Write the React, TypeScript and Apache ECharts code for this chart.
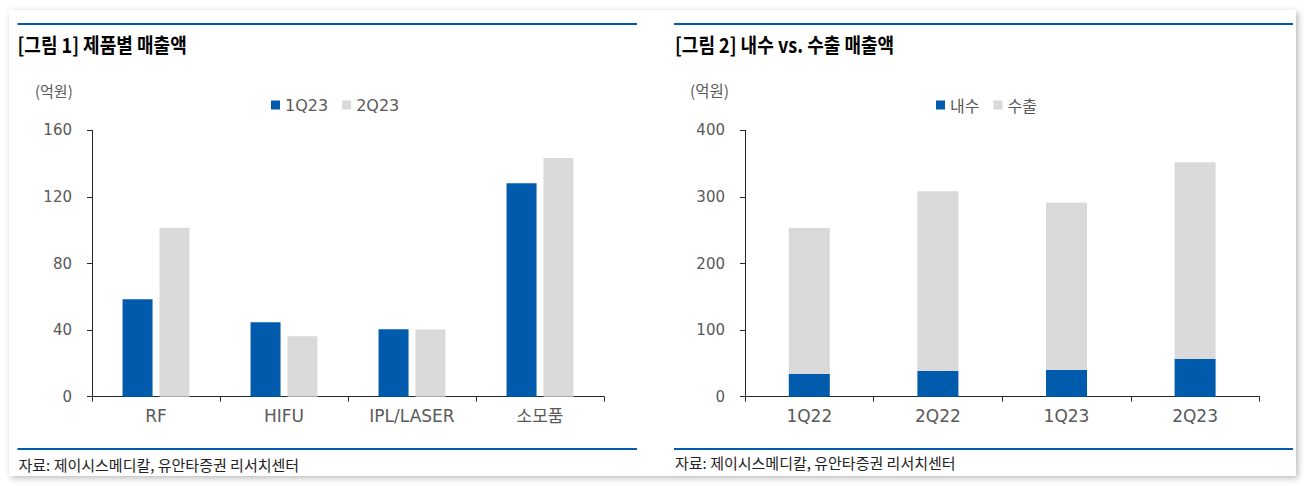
import React, { useEffect, useRef } from "react";
import * as echarts from "echarts";

// ---- Data ----
const productCategories = ["RF", "HIFU", "IPL/LASER", "소모품"];
const sales1Q23 = [58.5, 44.7, 40.5, 128.2];
const sales2Q23 = [101.4, 36.3, 40.3, 143.3];
const productLegend = ["1Q23", "2Q23"];

const quarters = ["1Q22", "2Q22", "1Q23", "2Q23"];
const domesticSales = [34.0, 38.5, 40.0, 56.6];
const exportSales = [219.3, 269.9, 251.4, 295.4];
const marketLegend = ["내수", "수출"];

const titles = ["[그림 1] 제품별 매출액", "[그림 2] 내수 vs. 수출 매출액"];
const unitLabel = "(억원)";
const sourceText = "자료: 제이시스메디칼, 유안타증권 리서치센터";

// ---- Styles ----
const BLUE = "#005BAC";
const GREY = "#D9D9D9";
const LABEL = "#595959";
const AXIS = "#262626";
const LATIN = '"DejaVu Sans", "Noto Sans CJK KR", sans-serif';
const KR = '"Noto Sans CJK KR", "Noto Sans", sans-serif';

export default function App() {
  const ref = useRef<HTMLDivElement>(null);

  useEffect(() => {
    if (!ref.current) return;
    const chart = echarts.init(ref.current, undefined, { renderer: "svg" });

    const axisCommon = {
      axisLine: { show: true, lineStyle: { color: AXIS, width: 1 } },
      axisTick: { show: true, length: 5, inside: false, lineStyle: { color: AXIS } },
      splitLine: { show: false },
    };

    const option: any = {
      animation: false,
      backgroundColor: "#ffffff",
      grid: [
        { left: 92, right: 702, top: 130.3, bottom: 89.3, containLabel: false },
        { left: 745, right: 46.6, top: 130.3, bottom: 89.3, containLabel: false },
      ],
      legend: [
        {
          data: productLegend,
          left: 266,
          top: 92,
          icon: "rect",
          itemWidth: 9,
          itemHeight: 9,
          itemGap: 14,
          textStyle: { color: LABEL, fontSize: 16, fontFamily: LATIN },
        },
        {
          data: marketLegend,
          left: 931,
          top: 92,
          icon: "rect",
          itemWidth: 9,
          itemHeight: 9,
          itemGap: 14,
          textStyle: { color: LABEL, fontSize: 16, fontFamily: KR },
        },
      ],
      xAxis: [
        {
          type: "category",
          gridIndex: 0,
          data: productCategories,
          boundaryGap: true,
          ...axisCommon,
          axisLabel: { color: LABEL, fontSize: 17, fontFamily: LATIN, margin: 11 },
        },
        {
          type: "category",
          gridIndex: 1,
          data: quarters,
          boundaryGap: true,
          ...axisCommon,
          axisLabel: { color: LABEL, fontSize: 17, fontFamily: LATIN, margin: 11 },
        },
      ],
      yAxis: [
        {
          type: "value",
          gridIndex: 0,
          min: 0,
          max: 160,
          interval: 40,
          ...axisCommon,
          axisLabel: { color: LABEL, fontSize: 15, fontFamily: LATIN, margin: 20 },
        },
        {
          type: "value",
          gridIndex: 1,
          min: 0,
          max: 400,
          interval: 100,
          ...axisCommon,
          axisLabel: { color: LABEL, fontSize: 15, fontFamily: LATIN, margin: 20 },
        },
      ],
      series: [
        {
          name: productLegend[0],
          type: "bar",
          xAxisIndex: 0,
          yAxisIndex: 0,
          data: sales1Q23,
          barWidth: 30,
          barGap: "23%",
          itemStyle: { color: BLUE },
        },
        {
          name: productLegend[1],
          type: "bar",
          xAxisIndex: 0,
          yAxisIndex: 0,
          data: sales2Q23,
          barWidth: 30,
          barGap: "23%",
          itemStyle: { color: GREY },
        },
        {
          name: marketLegend[0],
          type: "bar",
          xAxisIndex: 1,
          yAxisIndex: 1,
          stack: "total",
          data: domesticSales,
          barWidth: 41,
          itemStyle: { color: BLUE },
        },
        {
          name: marketLegend[1],
          type: "bar",
          xAxisIndex: 1,
          yAxisIndex: 1,
          stack: "total",
          data: exportSales,
          barWidth: 41,
          itemStyle: { color: GREY },
        },
      ],
      graphic: [
        {
          type: "rect",
          z: -10,
          silent: true,
          shape: { x: 9, y: 10, width: 1287, height: 466 },
          style: {
            fill: "#ffffff",
            shadowBlur: 6,
            shadowColor: "rgba(0,0,0,0.28)",
            shadowOffsetX: 2,
            shadowOffsetY: 2,
          },
        },
        // top blue rules
        { type: "rect", shape: { x: 17.5, y: 23, width: 619.5, height: 2 }, style: { fill: BLUE } },
        { type: "rect", shape: { x: 674, y: 23, width: 619, height: 2 }, style: { fill: BLUE } },
        // bottom blue rules
        { type: "rect", shape: { x: 17.5, y: 448, width: 619.5, height: 2 }, style: { fill: BLUE } },
        { type: "rect", shape: { x: 674, y: 448, width: 619, height: 2 }, style: { fill: BLUE } },
        // titles
        {
          type: "text",
          x: 17.5,
          y: 45,
          scaleX: 0.88,
          style: {
            text: titles[0],
            font: `bold 20.5px ${KR}`,
            fill: "#000000",
            align: "left",
            verticalAlign: "middle",
          },
        },
        {
          type: "text",
          x: 675,
          y: 45,
          scaleX: 0.88,
          style: {
            text: titles[1],
            font: `bold 20.5px ${KR}`,
            fill: "#000000",
            align: "left",
            verticalAlign: "middle",
          },
        },
        // units
        {
          type: "text",
          x: 35,
          y: 90,
          style: { text: unitLabel, font: `15px ${KR}`, fill: LABEL, align: "left", verticalAlign: "middle" },
        },
        {
          type: "text",
          x: 690,
          y: 90,
          style: { text: unitLabel, font: `15.5px ${KR}`, fill: LABEL, align: "left", verticalAlign: "middle" },
        },
        // sources
        {
          type: "text",
          x: 18.5,
          y: 464,
          style: { text: sourceText, font: `15px ${KR}`, fill: "#222222", align: "left", verticalAlign: "middle" },
        },
        {
          type: "text",
          x: 675,
          y: 462,
          style: { text: sourceText, font: `15px ${KR}`, fill: "#222222", align: "left", verticalAlign: "middle" },
        },
      ],
    };

    chart.setOption(option);
    return () => {
      chart.dispose();
    };
  }, []);

  return (
    <div
      ref={ref}
      style={{ position: "absolute", left: 0, top: 0, width: 1306, height: 486 }}
    />
  );
}
